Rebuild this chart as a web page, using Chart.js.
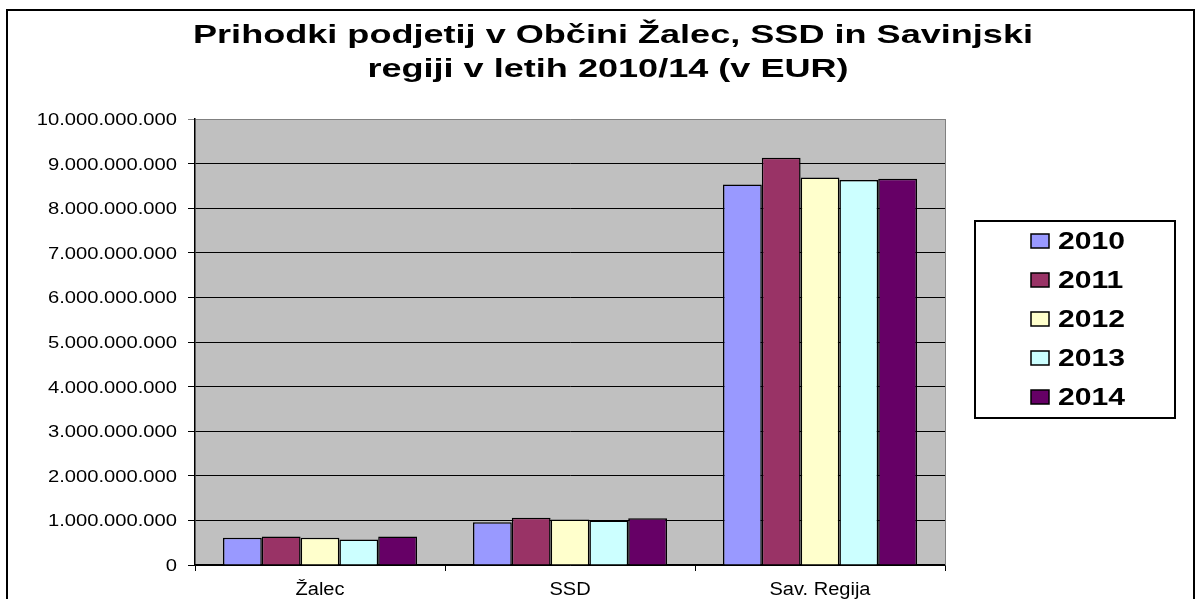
<!DOCTYPE html>
<html>
<head>
<meta charset="utf-8">
<script src="https://cdn.jsdelivr.net/npm/chart.js@4/dist/chart.umd.min.js"></script>
<style>
html,body{margin:0;padding:0;background:#fff;overflow:hidden;}
canvas{display:block;}
</style>
</head>
<body>
<canvas id="c" width="1198" height="599"></canvas>
<script>
// ---- data ----
const titleLines = ['Prihodki podjetij v Občini Žalec, SSD in Savinjski', 'regiji v letih 2010/14 (v EUR)'];
const categories = ['Žalec', 'SSD', 'Sav. Regija'];
const years = ['2010', '2011', '2012', '2013', '2014'];
const values2010 = [610000000, 960000000, 8530000000];
const values2011 = [640000000, 1060000000, 9130000000];
const values2012 = [610000000, 1020000000, 8690000000];
const values2013 = [570000000, 1000000000, 8630000000];
const values2014 = [640000000, 1050000000, 8660000000];
const yTickLabels = ['0', '1.000.000.000', '2.000.000.000', '3.000.000.000', '4.000.000.000',
  '5.000.000.000', '6.000.000.000', '7.000.000.000', '8.000.000.000', '9.000.000.000', '10.000.000.000'];
const seriesColors = ['#9999FF', '#993366', '#FFFFCC', '#CCFFFF', '#660066'];

const allValues = [values2010, values2011, values2012, values2013, values2014];
const FONT = '"Liberation Sans", Arial, sans-serif';

function stretchText(ctx, text, x, y, sx, align) {
  const w = ctx.measureText(text).width;
  ctx.save();
  ctx.translate(x, y);
  ctx.scale(sx, 1);
  let ox = 0;
  if (align === 'center') ox = -w / 2;
  else if (align === 'right') ox = -w;
  ctx.textAlign = 'left';
  ctx.fillText(text, ox, 0);
  ctx.restore();
}

const decor = {
  id: 'decor',
  beforeDraw(chart) {
    const ctx = chart.ctx;
    const a = chart.chartArea;
    ctx.save();
    ctx.fillStyle = '#fff';
    ctx.fillRect(0, 0, chart.width, chart.height);
    ctx.fillStyle = '#C0C0C0';
    ctx.fillRect(a.left, a.top, a.right - a.left, a.bottom - a.top);
    ctx.restore();
  },
  afterDraw(chart) {
    const ctx = chart.ctx;
    const a = chart.chartArea;
    ctx.save();
    // plot area right border
    ctx.strokeStyle = '#808080';
    ctx.lineWidth = 1;
    ctx.beginPath();
    ctx.moveTo(Math.round(a.right) + 0.5, a.top);
    ctx.lineTo(Math.round(a.right) + 0.5, a.bottom);
    ctx.stroke();

    ctx.fillStyle = '#000';
    ctx.textBaseline = 'alphabetic';

    // title
    ctx.font = 'bold 25px ' + FONT;
    const t1w = ctx.measureText(titleLines[0]).width;
    const tsx = 840 / t1w;
    stretchText(ctx, titleLines[0], 613, 43, tsx, 'center');
    stretchText(ctx, titleLines[1], 608, 77, tsx, 'center');

    // y tick labels
    const ys = chart.scales.y;
    ctx.font = '17px ' + FONT;
    const ysx = 129 / ctx.measureText('5.000.000.000').width;
    ys.ticks.forEach((t, i) => {
      const py = ys.getPixelForValue(t.value);
      const lbl = yTickLabels[i] !== undefined ? yTickLabels[i] : String(t.value);
      stretchText(ctx, lbl, 177, py + 6, ysx, 'right');
    });

    // x labels
    const xs = chart.scales.x;
    ctx.font = '18px ' + FONT;
    const xsx = 101 / ctx.measureText('Sav. Regija').width;
    categories.forEach((c, i) => {
      stretchText(ctx, c, xs.getPixelForValue(i), 595, xsx, 'center');
    });

    // legend
    ctx.lineWidth = 2;
    ctx.strokeStyle = '#000';
    ctx.strokeRect(975, 221, 200, 197);
    ctx.font = 'bold 24px ' + FONT;
    const lsx = 67 / ctx.measureText('2010').width;
    chart.data.datasets.forEach((ds, i) => {
      const by = 249 + i * 39;
      ctx.fillStyle = ds.backgroundColor;
      ctx.fillRect(1031, by - 15, 18, 14);
      ctx.lineWidth = 1.5;
      ctx.strokeStyle = '#000';
      ctx.strokeRect(1031, by - 15, 18, 14);
      ctx.fillStyle = '#000';
      stretchText(ctx, ds.label, 1058, by, lsx, 'left');
    });

    // outer border
    ctx.lineWidth = 2;
    ctx.strokeStyle = '#000';
    ctx.strokeRect(7, 10, 1187, 800);
    ctx.restore();
  }
};

new Chart(document.getElementById('c'), {
  type: 'bar',
  data: {
    labels: categories,
    datasets: years.map((y, i) => ({
      label: y,
      data: allValues[i],
      backgroundColor: seriesColors[i],
      borderColor: '#000',
      borderWidth: 1.5,
      borderSkipped: 'bottom',
      categoryPercentage: 0.776,
      barPercentage: 1.0
    }))
  },
  options: {
    responsive: false,
    animation: false,
    devicePixelRatio: 1,
    layout: { padding: { top: 119, right: 253, left: 0, bottom: 0 } },
    plugins: {
      legend: { display: false },
      title: { display: false },
      tooltip: { enabled: false }
    },
    scales: {
      x: {
        offset: true,
        ticks: { display: false },
        grid: { offset: true, drawOnChartArea: false, drawTicks: true, tickLength: 6, color: '#000', lineWidth: 1 },
        border: { display: true, color: '#000', width: 1.5 },
        afterFit(scale) { scale.height = 34; }
      },
      y: {
        min: 0,
        max: 10000000000,
        ticks: { display: false, stepSize: 1000000000 },
        grid: {
          color: (c) => (c.tick && c.tick.value === 10000000000 ? '#808080' : '#000'),
          lineWidth: 1,
          drawTicks: true,
          tickLength: 7
        },
        border: { display: true, color: '#000', width: 1.5 },
        afterFit(scale) { scale.width = 195; }
      }
    }
  },
  plugins: [decor]
});
</script>
</body>
</html>
